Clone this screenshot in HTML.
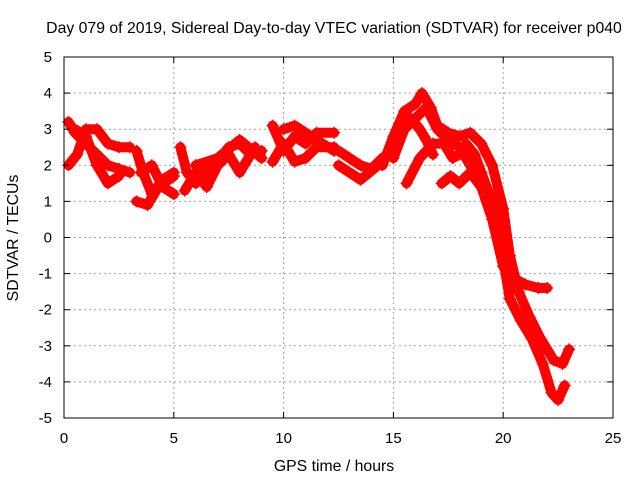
<!DOCTYPE html>
<html><head><meta charset="utf-8"><style>
body{margin:0;background:#fff}
svg{display:block;font-family:"Liberation Sans",sans-serif;font-size:15px}
</style></head><body>
<svg id="c" width="640" height="480" viewBox="0 0 640 480">
<rect width="640" height="480" fill="#fff"/>
<text x="334" y="33" text-anchor="middle" font-size="15.8">Day 079 of 2019, Sidereal Day-to-day VTEC variation (SDTVAR) for receiver p040</text>
<text x="334" y="471" text-anchor="middle" font-size="15.8">GPS time / hours</text>
<text transform="translate(18,238) rotate(-90)" text-anchor="middle" font-size="15.8">SDTVAR / TECUs</text>
<g id="grid"></g>
<g id="series"></g>
<rect x="64" y="57" width="549" height="361" fill="none" stroke="#000" stroke-width="1"/>
<g id="ticks"></g>
</svg>
<script>
const xTicks=[0,5,10,15,20,25];
const yTicks=[-5,-4,-3,-2,-1,0,1,2,3,4,5];
const trackA=[[0.2,3.2],[0.5,2.9],[1,2.6],[1.5,2.3],[2,2.0],[2.5,1.9],[3,1.8]];
const trackB=[[0.2,2.0],[0.6,2.3],[1,3.0],[1.5,3.0],[2,2.6],[2.5,2.5],[3,2.5]];
const trackC=[[0.5,3.0],[1,2.8],[1.5,2.0],[2,1.5],[2.5,1.7]];
const trackD=[[3.3,2.4],[3.6,1.8],[4,1.2],[4.5,1.6],[5,1.8]];
const trackE=[[3.3,1.0],[3.8,0.9],[4.3,1.4],[5,1.7]];
const trackF=[[3.5,1.8],[4,2.0],[4.5,1.4],[5,1.2]];
const trackG=[[5.3,2.5],[5.6,1.8],[6,1.5],[6.5,1.9],[7,2.1],[7.5,2.5],[8,2.6],[8.5,2.3],[9,2.4]];
const trackH=[[5.5,1.3],[6,1.8],[6.5,1.4],[7,2.0],[7.5,2.3],[8,1.8],[8.7,2.5]];
const trackI=[[6,2.0],[7,2.2],[8,2.7],[9,2.2]];
const trackJ=[[9.5,3.1],[10,2.4],[10.5,2.8],[11,2.6],[11.5,2.9],[12.3,2.9]];
const trackK=[[9.5,2.1],[10,2.6],[10.5,2.1],[11,2.2],[11.5,2.5],[12.3,2.5]];
const trackL=[[10,3.0],[10.5,3.1],[11.5,2.7],[12.3,2.4]];
const trackM=[[12.5,2.4],[13,2.2],[13.5,2.0],[14,1.9],[14.5,2.2],[15,2.4]];
const trackN=[[12.5,2.0],[13.5,1.6],[14.3,2.0],[15,2.5]];
const trackP1=[[14.5,2.0],[15,2.8],[15.5,3.5],[16,3.7],[16.3,4.0],[16.7,3.6],[17,3.1],[17.5,2.9],[18,2.8],[18.5,2.9],[19,2.6],[19.5,2.0],[20,0.8],[20.3,-0.5],[20.7,-1.5],[21.2,-2.2],[21.7,-2.8],[22.3,-3.4],[22.7,-3.5],[23,-3.1]];
const trackP2=[[15,2.2],[15.5,3.0],[16,3.3],[16.5,3.6],[17,3.0],[17.5,2.7],[18,2.5],[18.5,2.0],[19,1.8],[19.5,1.0],[20,-0.5],[20.4,-1.1],[21,-1.3],[21.6,-1.4],[22,-1.4]];
const trackP3=[[15.3,3.0],[15.8,3.3],[16.2,3.0],[16.5,2.7],[16.8,2.3]];
const trackP4=[[15.6,1.5],[16.2,2.2],[16.8,2.6],[17.3,2.6],[17.7,2.2],[18,2.3],[18.3,2.6],[18.7,2.3],[19,1.8],[19.5,0.8],[20,-0.6],[20.3,-1.7],[20.8,-2.3],[21.3,-2.8],[21.8,-3.5],[22.2,-4.3],[22.5,-4.5],[22.8,-4.1]];
const trackP5=[[17.2,1.5],[17.6,1.7],[18,1.5],[18.5,1.8],[19,1.4],[19.5,0.5],[20,-0.8]];
const tracks=[trackA,trackB,trackC,trackD,trackE,trackF,trackG,trackH,trackI,trackJ,trackK,trackL,trackM,trackN,trackP1,trackP2,trackP3,trackP4,trackP5];
const X=v=>64+v*(549/25), Y=v=>237.5-v*36.1;
const NS='http://www.w3.org/2000/svg';
function mk(t,a,p){const e=document.createElementNS(NS,t);for(const k in a)e.setAttribute(k,a[k]);p.appendChild(e);return e;}
const grid=document.getElementById('grid'),ticks=document.getElementById('ticks'),ser=document.getElementById('series');
xTicks.forEach(v=>{const x=X(v);
 if(v>0&&v<25){const g=mk('line',{x1:x,x2:x,y1:57,y2:418,stroke:'#a0a0a0','stroke-dasharray':'2,3'},grid);}
 mk('line',{x1:x,x2:x,y1:418,y2:412,stroke:'#000'},ticks);mk('line',{x1:x,x2:x,y1:57,y2:63,stroke:'#000'},ticks);
 const t=mk('text',{x:x,y:443,'text-anchor':'middle'},ticks);t.textContent=v;
 });
yTicks.forEach(v=>{const y=Y(v);
 if(v>-5&&v<5){const g=mk('line',{x1:64,x2:613,y1:y,y2:y,stroke:'#a0a0a0','stroke-dasharray':'2,3'},grid);}
 mk('line',{x1:64,x2:70,y1:y,y2:y,stroke:'#000'},ticks);mk('line',{x1:613,x2:607,y1:y,y2:y,stroke:'#000'},ticks);
 const t=mk('text',{x:52,y:y+5,'text-anchor':'end'},ticks);t.textContent=v;
 });
tracks.forEach(tr=>{
 const pl=mk('polyline',{points:tr.map(p=>X(p[0])+','+Y(p[1])).join(' '),fill:'none',stroke:'#f00','stroke-width':10,'stroke-linejoin':'round','stroke-linecap':'round'},ser);
 
 tr.forEach(p=>{const x=X(p[0]),y=Y(p[1]);
  const m=mk('path',{d:`M${x-6},${y}h12M${x},${y-6}v12`,stroke:'#f00','stroke-width':1.5},ser);
  });
});
</script>
</body></html>
